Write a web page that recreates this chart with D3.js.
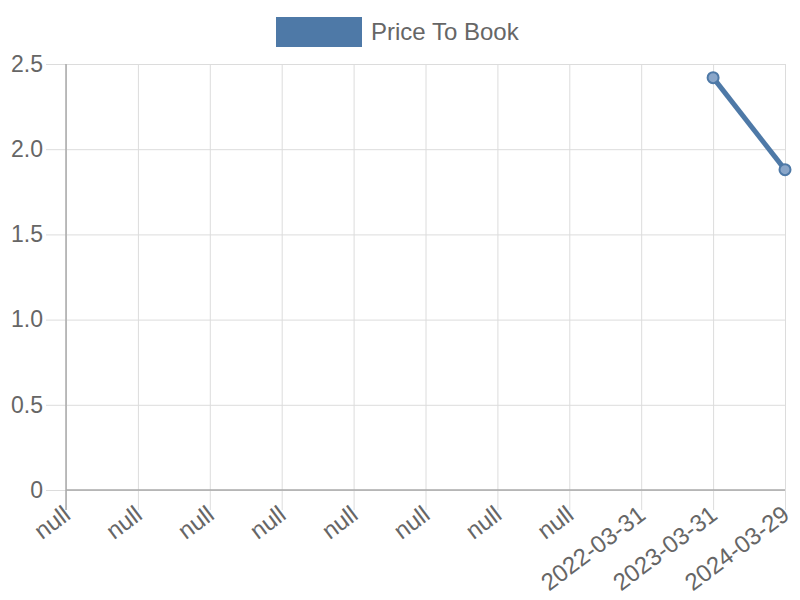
<!DOCTYPE html>
<html>
<head>
<meta charset="utf-8">
<script src="https://cdn.jsdelivr.net/npm/d3@7"></script>
<style>
  body { margin: 0; background: #fff; }
  text { font-family: "Liberation Sans", Arial, sans-serif; fill: #666; }
</style>
</head>
<body>
<div id="chart"></div>
<script>
var labels = ['null','null','null','null','null','null','null','null','2022-03-31','2023-03-31','2024-03-29'];
var values = [null,null,null,null,null,null,null,null,null,2.42,1.88];
var yTicks = [0, 0.5, 1.0, 1.5, 2.0, 2.5];
var seriesName = 'Price To Book';

var width = 800, height = 600;
var plotLeft = 66, plotRight = 785, plotTop = 64, plotBottom = 490;
var lineColor = '#4e79a7';

var svg = d3.select('#chart').append('svg')
  .attr('width', width)
  .attr('height', height);

var xScale = d3.scalePoint()
  .domain(d3.range(labels.length))
  .range([plotLeft, plotRight]);

var yScale = d3.scaleLinear()
  .domain([0, 2.5])
  .range([plotBottom, plotTop]);

// horizontal grid + y ticks
var yAxis = d3.axisLeft(yScale)
  .tickValues(yTicks)
  .tickSize(-(plotRight - plotLeft))
  .tickPadding(23)
  .tickFormat(function(d){ return d === 0 ? '0' : d3.format('.1f')(d); });

var yG = svg.append('g')
  .attr('transform', 'translate(' + plotLeft + ',0)')
  .call(yAxis);
yG.select('.domain').remove();
yG.selectAll('.tick line')
  .attr('x1', -20)
  .attr('stroke', '#dcdcdc');
yG.selectAll('.tick text')
  .style('font-size', '23px')
  .attr('fill', '#666');

// vertical grid + x ticks
var xAxis = d3.axisBottom(xScale)
  .tickSize(20)
  .tickFormat(function(i){ return labels[i]; });

var xG = svg.append('g')
  .attr('transform', 'translate(0,' + plotBottom + ')')
  .call(xAxis);
xG.select('.domain').remove();
xG.selectAll('.tick line')
  .attr('y1', plotTop - plotBottom)
  .attr('stroke', '#dcdcdc');
xG.selectAll('.tick text')
  .style('font-size', '24px')
  .attr('fill', '#666')
  .attr('text-anchor', 'end')
  .attr('y', 0)
  .attr('dy', '0.72em')
  .attr('transform', 'translate(-5,14) rotate(-37)');

// axis lines
svg.append('line')
  .attr('x1', plotLeft).attr('x2', plotLeft)
  .attr('y1', plotTop).attr('y2', plotBottom + 20)
  .attr('stroke', '#aaa').attr('stroke-width', 1.5);
svg.append('line')
  .attr('x1', plotLeft).attr('x2', plotRight)
  .attr('y1', plotBottom).attr('y2', plotBottom)
  .attr('stroke', '#aaa').attr('stroke-width', 1.5);

// series
var pts = values.map(function(v, i){ return { i: i, v: v }; });

var line = d3.line()
  .defined(function(d){ return d.v !== null; })
  .x(function(d){ return xScale(d.i); })
  .y(function(d){ return yScale(d.v); });

svg.append('path')
  .datum(pts)
  .attr('fill', 'none')
  .attr('stroke', lineColor)
  .attr('stroke-width', 5)
  .attr('d', line);

svg.append('g')
  .selectAll('circle')
  .data(pts.filter(function(d){ return d.v !== null; }))
  .enter()
  .append('circle')
  .attr('cx', function(d){ return xScale(d.i); })
  .attr('cy', function(d){ return yScale(d.v); })
  .attr('r', 5.5)
  .attr('fill', '#8aa6c9')
  .attr('stroke', lineColor)
  .attr('stroke-width', 2);

// legend
var legend = svg.append('g');
legend.append('rect')
  .attr('x', 276).attr('y', 17)
  .attr('width', 86).attr('height', 30)
  .attr('fill', lineColor);
legend.append('text')
  .attr('x', 371).attr('y', 32)
  .attr('dy', '0.35em')
  .style('font-size', '24px')
  .text(seriesName);
</script>
</body>
</html>
